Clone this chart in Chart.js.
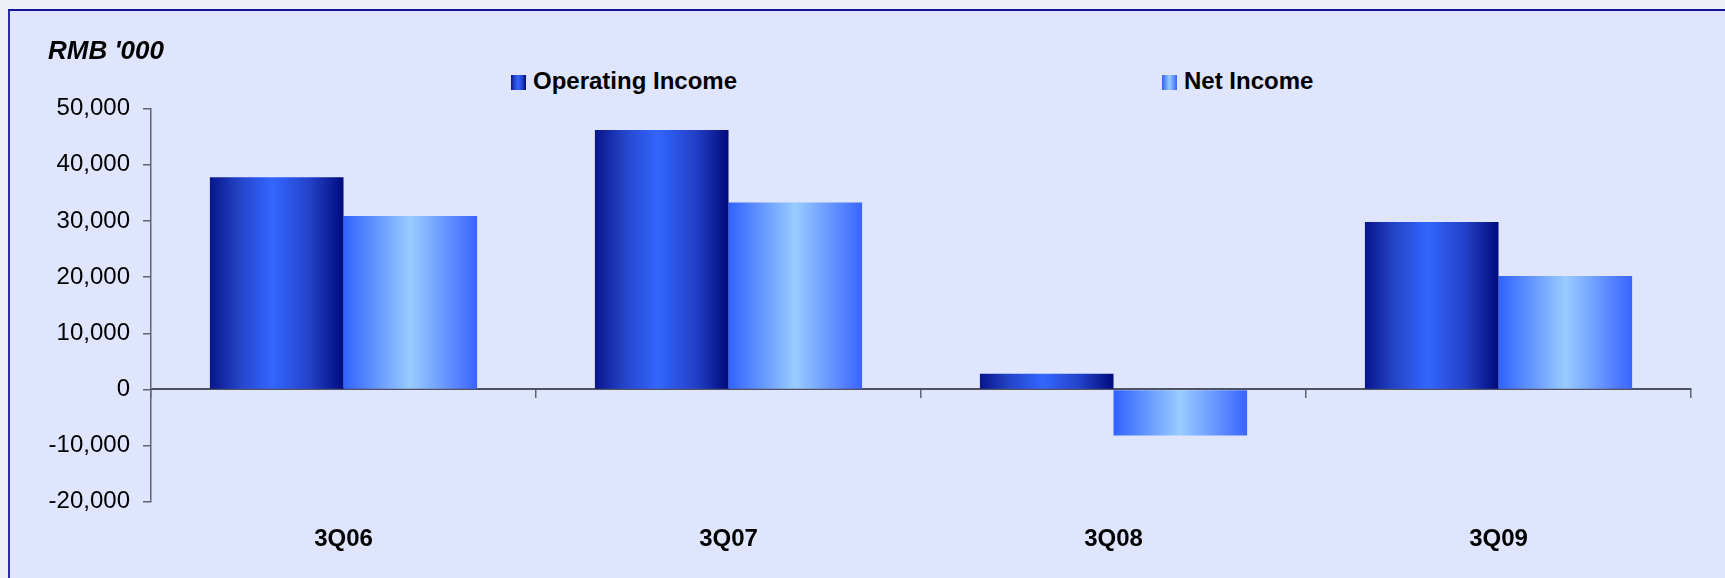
<!DOCTYPE html>
<html>
<head>
<meta charset="utf-8">
<script src="https://cdn.jsdelivr.net/npm/chart.js@4"></script>
<style>
    html, body { margin: 0; padding: 0; width: 1725px; height: 578px; overflow: hidden; background: #eef0f7; font-family: "Liberation Sans", Arial, sans-serif; }
    .frame { position: absolute; left: 8px; top: 9px; width: 2000px; height: 1000px; border-left: 2px solid #2c2ca6; border-top: 2px solid #14149a; background: #dee5fd; }
    .legend { position: absolute; top: 66px; font-weight: bold; font-size: 24px; color: #000; line-height: 30px; white-space: nowrap; }
    .legend i { display: inline-block; width: 15px; height: 15px; margin-right: 7px; vertical-align: -1px; }
    #wrap { position: absolute; left: 0; top: 0; width: 1725px; height: 578px; }
</style>
</head>
<body>
<div class="frame"></div>
<div class="legend" id="leg0" style="left:511px"></div>
<div class="legend" id="leg1" style="left:1162px"></div>
<div id="wrap"><canvas id="canvas1"></canvas></div>
<script>
const categories = ["3Q06", "3Q07", "3Q08", "3Q09"];
const seriesNames = ["Operating Income", "Net Income"];
const operatingIncome = [37800, 46200, 2800, 29800];
const netIncome = [30900, 33300, -8200, 20200];
const yTicks = [-20000, -10000, 0, 10000, 20000, 30000, 40000, 50000];
const unitLabel = "RMB '000";

const GROUP = 0.694;
const opStops = [[0, '#08158a'], [0.22, '#2444c8'], [0.47, '#3366ff'], [0.75, '#2341c8'], [1, '#000a7c']];
const netStops = [[0, '#3062ff'], [0.5, '#99ccff'], [1, '#3a64ff']];

function barGradient(c, stops) {
    const chart = c.chart;
    const x = chart.scales.x;
    if (c.type !== 'data' || !x || !chart.chartArea) return stops[Math.floor(stops.length / 2)][1];
    const w = x.width / categories.length * GROUP / 2;
    const left = x.getPixelForValue(c.dataIndex) - w + c.datasetIndex * w;
    const g = chart.ctx.createLinearGradient(left, 0, left + w, 0);
    stops.forEach(s => g.addColorStop(s[0], s[1]));
    return g;
}

function cssGradient(stops) {
    return 'linear-gradient(to right,' + stops.map(s => s[1] + ' ' + (s[0] * 100) + '%').join(',') + ')';
}

[opStops, netStops].forEach(function (stops, i) {
    document.getElementById('leg' + i).innerHTML = '<i style="background:' + cssGradient(stops) + '"></i>' + seriesNames[i];
});

const axisColor = '#5f6374';

const data = {
    labels: categories,
    datasets: [
        {
            label: seriesNames[0],
            data: operatingIncome,
            backgroundColor: c => barGradient(c, opStops),
            borderWidth: 0
        },
        {
            label: seriesNames[1],
            data: netIncome,
            backgroundColor: c => barGradient(c, netStops),
            borderWidth: 0
        }
    ]
};

const config = {
    type: 'bar',
    data: data,
    options: {
        responsive: false,
        animation: false,
        categoryPercentage: GROUP,
        barPercentage: 1.0,
        layout: { padding: { left: 48, right: 34, top: 0, bottom: 1.7 } },
        plugins: {
            legend: { display: false },
            tooltip: { enabled: false },
            title: {
                display: true,
                text: unitLabel,
                align: 'start',
                color: '#000',
                font: { family: '"Liberation Sans", Arial, sans-serif', size: 26, weight: 'bold', style: 'italic' },
                padding: { top: 35.9, bottom: 41.6 }
            }
        },
        scales: {
            x: {
                type: 'category',
                grid: { display: false, drawTicks: false },
                border: { display: false },
                ticks: {
                    color: '#000',
                    padding: 22.9,
                    font: { family: '"Liberation Sans", Arial, sans-serif', size: 24, weight: 'bold' }
                }
            },
            x2: {
                axis: 'x',
                type: 'category',
                labels: categories,
                position: { y: 0 },
                offset: true,
                grid: { offset: true, drawOnChartArea: false, drawTicks: true, tickLength: 8, color: axisColor, lineWidth: 1.5 },
                border: { display: true, color: '#4e5262', width: 2 },
                ticks: { display: false }
            },
            y: {
                min: -20000,
                max: 50000,
                afterBuildTicks: s => { s.ticks = yTicks.map(v => ({ value: v })); },
                afterFit: s => { s.width = 103; },
                grid: { drawOnChartArea: false, drawTicks: true, tickLength: 8, color: axisColor, lineWidth: 1.5 },
                border: { display: true, color: axisColor, width: 1.5 },
                ticks: {
                    color: '#000',
                    padding: 13,
                    font: { family: '"Liberation Sans", Arial, sans-serif', size: 24 },
                    callback: v => v.toLocaleString('en-US')
                }
            }
        }
    }
};

const canvas = document.getElementById('canvas1');
canvas.width = 1725;
canvas.height = 578;
const chart = new Chart(canvas, config);
</script>
</body>
</html>
